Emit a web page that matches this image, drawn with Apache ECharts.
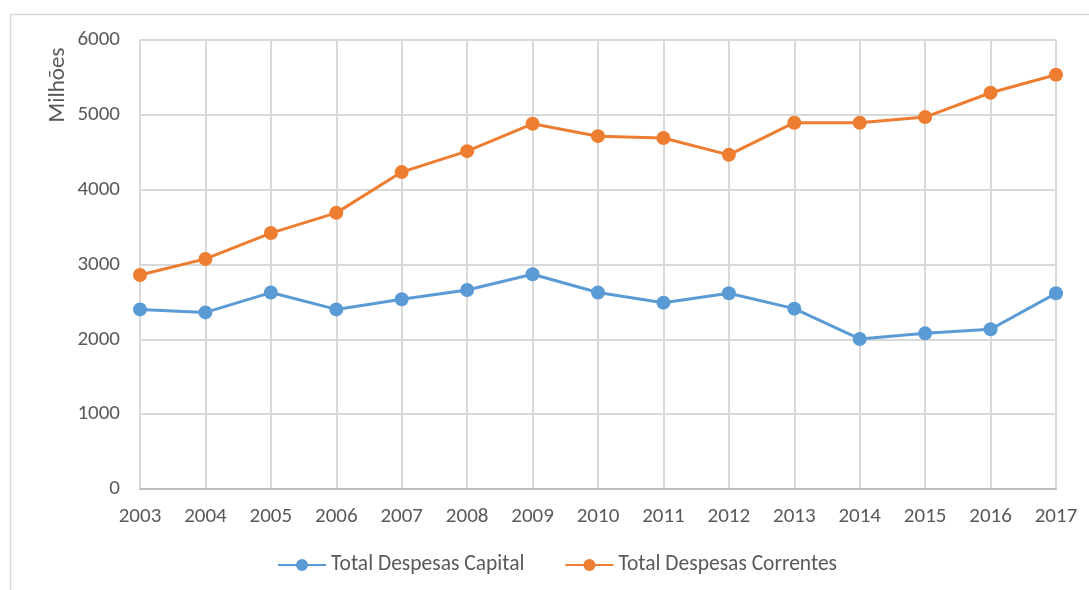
<!DOCTYPE html>
<html>
<head>
<meta charset="utf-8">
<script src="https://cdn.jsdelivr.net/npm/echarts@6/dist/echarts.min.js"></script>
<style>
  html, body { margin: 0; padding: 0; background: #fff; }
  #chart { width: 1089px; height: 590px; }
</style>
</head>
<body>
<div id="chart"></div>
<script>
// Anos (eixo das categorias)
const years = ['2003','2004','2005','2006','2007','2008','2009','2010','2011','2012','2013','2014','2015','2016','2017'];
// Despesas em milhões
const despesasCapital = [2400, 2360, 2625, 2400, 2535, 2660, 2870, 2625, 2490, 2615, 2410, 2005, 2080, 2135, 2615];
const despesasCorrentes = [2860, 3075, 3420, 3690, 4235, 4515, 4880, 4715, 4690, 4465, 4895, 4895, 4970, 5295, 5535];
const seriesNames = ['Total Despesas Capital', 'Total Despesas Correntes'];
const yTicks = { min: 0, max: 6000, interval: 1000 };
const yAxisTitle = 'Milhões';

const font = 'Calibri, Carlito, "Liberation Sans Narrow", "Open Sans", sans-serif';
const textColor = '#595959';
const fs = 21;

const chart = echarts.init(document.getElementById('chart'));
chart.setOption({
  animation: false,
  backgroundColor: '#fff',
  textStyle: { fontFamily: font },
  graphic: [
    {
      type: 'rect',
      shape: { x: 10.5, y: 14.5, width: 1200, height: 700 },
      style: { fill: 'none', stroke: '#d9d9d9', lineWidth: 1.5 },
      silent: true
    },
    {
      type: 'text',
      x: 58, y: 85,
      rotation: Math.PI / 2,
      style: {
        text: yAxisTitle, fill: textColor, fontSize: 23, fontFamily: font,
        align: 'center', verticalAlign: 'middle'
      },
      silent: true
    }
  ],
  grid: { left: 140, right: 33, top: 40, bottom: 101 },
  legend: {
    left: 272, top: 549,
    itemWidth: 48, itemHeight: 15, itemGap: 40,
    textStyle: { color: textColor, fontSize: 21.5, fontFamily: font },
    data: seriesNames
  },
  xAxis: {
    type: 'category',
    data: years,
    boundaryGap: false,
    axisLine: { lineStyle: { color: '#bfbfbf', width: 2 } },
    axisTick: { show: false },
    axisLabel: { color: textColor, fontSize: fs, margin: 17, fontFamily: font },
    splitLine: { show: true, lineStyle: { color: '#d9d9d9', width: 2 } }
  },
  yAxis: {
    type: 'value',
    min: yTicks.min, max: yTicks.max, interval: yTicks.interval,
    axisLine: { show: false },
    axisTick: { show: false },
    axisLabel: { color: textColor, fontSize: fs, margin: 20, fontFamily: font, formatter: v => String(v) },
    splitLine: { lineStyle: { color: '#d9d9d9', width: 2 } }
  },
  series: [
    {
      name: seriesNames[0], type: 'line', data: despesasCapital,
      symbol: 'circle', symbolSize: 14,
      itemStyle: { color: '#5b9bd5' },
      lineStyle: { color: '#5b9bd5', width: 3 }
    },
    {
      name: seriesNames[1], type: 'line', data: despesasCorrentes,
      symbol: 'circle', symbolSize: 14,
      itemStyle: { color: '#ed7d31' },
      lineStyle: { color: '#ed7d31', width: 3 }
    }
  ]
});
</script>
</body>
</html>
